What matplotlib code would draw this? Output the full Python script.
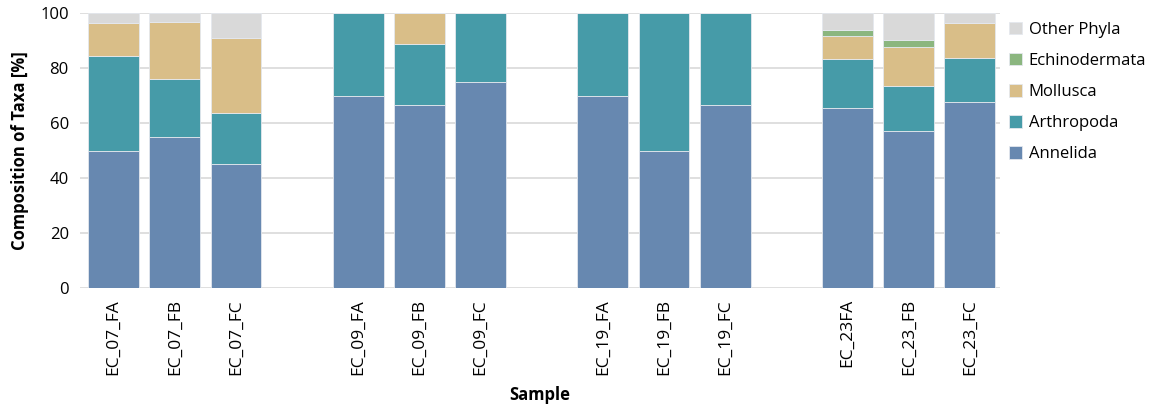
import matplotlib.pyplot as plt
import numpy as np

plt.rcParams['font.family'] = ['Open Sans', 'DejaVu Sans']

samples = ['EC_07_FA', 'EC_07_FB', 'EC_07_FC',
           'EC_09_FA', 'EC_09_FB', 'EC_09_FC',
           'EC_19_FA', 'EC_19_FB', 'EC_19_FC',
           'EC_23FA', 'EC_23_FB', 'EC_23_FC']
annelida = [50.0, 55.0, 45.0, 70.0, 66.7, 75.0, 70.0, 50.0, 66.7, 65.4, 57.1, 67.6]
arthropoda = [34.4, 21.2, 18.8, 30.0, 22.2, 25.0, 30.0, 50.0, 33.3, 17.9, 16.3, 16.2]
mollusca = [11.9, 20.6, 27.1, 0.0, 11.1, 0.0, 0.0, 0.0, 0.0, 8.3, 14.3, 12.6]
echinodermata = [0.0, 0.0, 0.0, 0.0, 0.0, 0.0, 0.0, 0.0, 0.0, 2.1, 2.5, 0.0]
other = [3.7, 3.2, 9.1, 0.0, 0.0, 0.0, 0.0, 0.0, 0.0, 6.3, 9.8, 3.6]

series = [('Annelida', annelida, '#6788b0'),
          ('Arthropoda', arthropoda, '#469ba8'),
          ('Mollusca', mollusca, '#d9be88'),
          ('Echinodermata', echinodermata, '#8bb67f'),
          ('Other Phyla', other, '#d9d9d9')]

# groups of three with one empty slot between them
x = np.array([i + i // 3 for i in range(len(samples))])

fig = plt.figure(figsize=(11.52, 4.12), dpi=100)
ax = fig.add_axes([0.0694, 0.301, 0.799, 0.667])

bottom = np.zeros(len(samples))
handles = []
for name, vals, col in series:
    vals = np.array(vals)
    b = ax.bar(x, vals, width=0.83, bottom=bottom, color=col,
               edgecolor='#e4e8ee', linewidth=0.6, label=name, zorder=3)
    handles.append(b)
    bottom += vals

ax.set_xlim(-0.55, 14.5)
ax.set_ylim(0, 100)
ax.set_yticks(range(0, 101, 20))
ax.set_xticks(x)
ax.set_xticklabels(samples, rotation=90, fontsize=12.5)
ax.tick_params(axis='y', labelsize=12, length=0, pad=8)
ax.tick_params(axis='x', length=0, pad=8)
ax.grid(axis='y', color='#d9d9d9', linewidth=1.2, zorder=0)
for s in ax.spines.values():
    s.set_visible(False)

ax.set_xlabel('Sample', fontsize=12, fontweight='bold', labelpad=8)
ax.set_ylabel('Composition of Taxa [%]', fontsize=12, fontweight='bold', labelpad=8)

ax.legend(handles[::-1], [s[0] for s in series][::-1], loc='upper left',
          bbox_to_anchor=(1.0, 1.0), frameon=False, fontsize=12,
          handlelength=0.8, handleheight=0.8, handletextpad=0.4,
          labelspacing=0.9, borderaxespad=0.1)

fig.savefig('out.png', dpi=100)
